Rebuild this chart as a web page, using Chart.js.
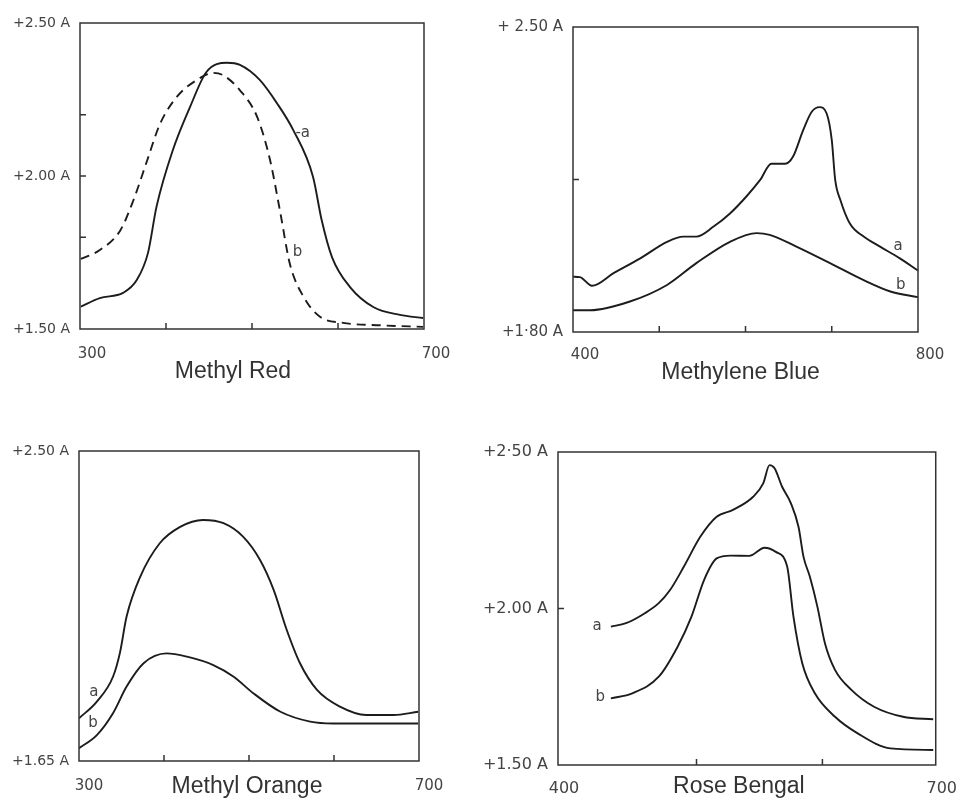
<!DOCTYPE html>
<html><head><meta charset="utf-8">
<script src="https://cdn.jsdelivr.net/npm/chart.js@4.4.0/dist/chart.umd.min.js"></script>
<style>
html,body{margin:0;padding:0;background:#fff;}
#wrap{position:relative;width:965px;height:800px;overflow:hidden;}
.p{position:absolute;}
</style></head><body>
<div id="wrap">
<div class="p" style="left:0;top:0;width:480px;height:400px"><canvas id="c1"></canvas></div>
<div class="p" style="left:480px;top:0;width:485px;height:400px"><canvas id="c2"></canvas></div>
<div class="p" style="left:0;top:400px;width:480px;height:400px"><canvas id="c3"></canvas></div>
<div class="p" style="left:480px;top:400px;width:485px;height:400px"><canvas id="c4"></canvas></div>
</div>
<script>
// ---------- Methyl Red ----------
const mrA_x = [301, 323, 350, 366, 379, 389, 408, 428, 447, 471, 486, 509, 529, 548, 571, 581, 593, 614, 641, 672, 699];
const mrA_y = [1.573, 1.601, 1.618, 1.66, 1.748, 1.90, 2.085, 2.226, 2.34, 2.37, 2.363, 2.314, 2.238, 2.15, 1.997, 1.856, 1.735, 1.637, 1.572, 1.546, 1.536];
const mrB_x = [301, 323, 347, 362, 378, 393, 413, 436, 455, 466, 486, 506, 521, 533, 544, 560, 579, 606, 650, 699];
const mrB_y = [1.729, 1.758, 1.823, 1.92, 2.05, 2.17, 2.26, 2.314, 2.337, 2.33, 2.28, 2.193, 2.052, 1.879, 1.713, 1.605, 1.54, 1.52, 1.512, 1.507];
const mrXLabels = [300, 700];
const mrYTicks = [1.5, 2.0, 2.5];
const mrYLabels = ['+1.50 A', '+2.00 A', '+2.50 A'];

// ---------- Methylene Blue ----------
const mbA_x = [400, 408, 422, 447, 478, 509, 528, 543, 563, 582, 601, 617, 630, 646, 655, 667, 677, 686, 694, 700, 704, 710, 721, 737, 756, 779, 800];
const mbA_y = [1.927, 1.926, 1.906, 1.935, 1.969, 2.007, 2.019, 2.019, 2.042, 2.072, 2.111, 2.149, 2.186, 2.186, 2.202, 2.264, 2.306, 2.316, 2.302, 2.241, 2.149, 2.103, 2.049, 2.019, 1.996, 1.969, 1.941];
const mbB_x = [400, 420, 466, 509, 543, 582, 613, 628, 659, 698, 737, 768, 800];
const mbB_y = [1.85, 1.85, 1.870, 1.908, 1.958, 2.007, 2.027, 2.023, 1.996, 1.958, 1.919, 1.893, 1.880];
const mbXLabels = [400, 800];
const mbYTicks = [1.8, 2.5];
const mbYLabels = ['+1·80 A', '+ 2.50 A'];

// ---------- Methyl Orange ----------
const moA_x = [300, 321, 340, 348, 356, 372, 395, 419, 446, 470, 493, 513, 529, 544, 560, 580, 607, 638, 670, 699];
const moA_y = [1.767, 1.813, 1.881, 1.945, 2.046, 2.155, 2.247, 2.292, 2.311, 2.302, 2.265, 2.201, 2.119, 2.012, 1.918, 1.845, 1.799, 1.776, 1.776, 1.785];
const moB_x = [300, 321, 340, 356, 376, 403, 427, 458, 482, 505, 537, 572, 599, 699];
const moB_y = [1.685, 1.721, 1.781, 1.854, 1.918, 1.945, 1.936, 1.913, 1.881, 1.836, 1.785, 1.758, 1.753, 1.753];
const moXLabels = [300, 700];
const moYTicks = [1.65, 2.5];
const moYLabels = ['+1.65 A', '+2.50 A'];

// ---------- Rose Bengal ----------
const rbA_x = [442, 454, 469, 480, 489, 500, 513, 526, 539, 555, 563, 568, 572, 578, 585, 591, 595, 600, 606, 612, 620, 633, 651, 674, 698];
const rbA_y = [1.942, 1.953, 1.985, 2.017, 2.059, 2.134, 2.229, 2.293, 2.315, 2.357, 2.40, 2.458, 2.448, 2.389, 2.336, 2.261, 2.165, 2.102, 2.006, 1.889, 1.804, 1.74, 1.686, 1.654, 1.646];
const rbB_x = [442, 459, 480, 495, 506, 516, 526, 537, 552, 564, 573, 582, 587, 594, 604, 620, 638, 664, 698];
const rbB_y = [1.713, 1.729, 1.782, 1.878, 1.974, 2.091, 2.16, 2.169, 2.168, 2.194, 2.181, 2.134, 1.974, 1.825, 1.729, 1.654, 1.601, 1.553, 1.548];
const rbXLabels = [400, 700];
const rbYTicks = [1.5, 2.0, 2.5];
const rbYLabels = ['+1.50 A', '+2.00 A', '+2·50 A'];

Chart.defaults.font.family = '"DejaVu Sans", sans-serif';

const framePlugin = {
  id: 'frame',
  afterDatasetsDraw(chart, args, o) {
    const {ctx, chartArea: a, scales: {x, y}} = chart;
    ctx.save();
    ctx.strokeStyle = '#333'; ctx.lineWidth = 1.5;
    ctx.strokeRect(a.left, a.top, a.right - a.left, a.bottom - a.top);
    ctx.beginPath();
    (o.xTicks || []).forEach(v => { const px = x.getPixelForValue(v); ctx.moveTo(px, a.bottom); ctx.lineTo(px, a.bottom - 6); });
    (o.yTicks || []).forEach(v => { const py = y.getPixelForValue(v); ctx.moveTo(a.left, py); ctx.lineTo(a.left + 6, py); });
    ctx.stroke();
    ctx.fillStyle = '#444'; ctx.font = '15px "DejaVu Sans"';
    ctx.textAlign = 'center'; ctx.textBaseline = 'middle';
    (o.labels || []).forEach(l => ctx.fillText(l.text, x.getPixelForValue(l.x), y.getPixelForValue(l.y)));
    ctx.fillStyle = '#333'; ctx.font = '23px "Liberation Sans", Arial, sans-serif';
    ctx.fillText(o.title, (a.left + a.right) / 2 + o.titleDx, o.titleY);
    ctx.restore();
  }
};

function makeChart(id, c) {
  const datasets = c.series.map(s => ({
    data: s.x.map((v, i) => ({x: v, y: s.y[i]})),
    borderColor: '#1c1c1c', borderWidth: 1.9, borderDash: s.dash || [],
    pointRadius: 0, fill: false, cubicInterpolationMode: 'monotone'
  }));
  new Chart(document.getElementById(id), {
    type: 'line',
    data: {datasets},
    options: {
      animation: false, responsive: true, maintainAspectRatio: false,
      layout: {padding: {top: c.box.top, right: c.W - c.box.right, left: 0, bottom: 0}},
      plugins: {
        legend: {display: false}, tooltip: {enabled: false},
        frame: {xTicks: c.xMinor, yTicks: c.yMinor, labels: c.labels, title: c.title, titleDx: c.titleDx, titleY: c.titleY}
      },
      scales: {
        x: {
          type: 'linear', min: c.xMin, max: c.xMax,
          grid: {display: false, drawTicks: false}, border: {display: false},
          afterBuildTicks: s => { s.ticks = c.xLabels.map(v => ({value: v})); },
          afterFit: s => { s.height = c.H - c.box.bottom; },
          ticks: {autoSkip: false, maxRotation: 0, padding: c.xPad, labelOffset: c.labelOffset,
                  font: {size: c.xFont}, color: '#444', callback: v => String(v)}
        },
        y: {
          min: c.yMin, max: c.yMax,
          grid: {display: false, drawTicks: false}, border: {display: false},
          afterBuildTicks: s => { s.ticks = c.yTicks.map(v => ({value: v})); },
          afterFit: s => { s.width = c.box.left; },
          ticks: {autoSkip: false, padding: 10, font: {size: c.yFont}, color: '#444',
                  callback: (v, i) => c.yLabels[i]}
        }
      }
    },
    plugins: [framePlugin]
  });
}

makeChart('c1', {
  W: 480, H: 400, box: {left: 80, right: 424, top: 23, bottom: 329},
  xMin: 300, xMax: 700, yMin: 1.5, yMax: 2.5,
  xLabels: mrXLabels, yTicks: mrYTicks, yLabels: mrYLabels,
  xMinor: [400, 500, 600], yMinor: [1.8, 2.0, 2.2],
  xPad: 16, labelOffset: 12, xFont: 15, yFont: 14,
  series: [{x: mrA_x, y: mrA_y}, {x: mrB_x, y: mrB_y, dash: [9, 6]}],
  labels: [{text: '-a', x: 559, y: 2.14}, {text: 'b', x: 553, y: 1.752}],
  title: 'Methyl Red', titleDx: -19, titleY: 372
});
makeChart('c2', {
  W: 485, H: 400, box: {left: 93, right: 438, top: 27, bottom: 332},
  xMin: 400, xMax: 800, yMin: 1.8, yMax: 2.5,
  xLabels: mbXLabels, yTicks: mbYTicks, yLabels: mbYLabels,
  xMinor: [500, 600, 700], yMinor: [2.15],
  xPad: 14, labelOffset: 12, xFont: 15, yFont: 15,
  series: [{x: mbA_x, y: mbA_y}, {x: mbB_x, y: mbB_y}],
  labels: [{text: 'a', x: 777, y: 1.997}, {text: 'b', x: 780, y: 1.908}],
  title: 'Methylene Blue', titleDx: -5, titleY: 373
});
makeChart('c3', {
  W: 480, H: 400, box: {left: 79, right: 419, top: 51, bottom: 361},
  xMin: 300, xMax: 700, yMin: 1.65, yMax: 2.5,
  xLabels: moXLabels, yTicks: moYTicks, yLabels: moYLabels,
  xMinor: [400, 500, 600], yMinor: [],
  xPad: 16, labelOffset: 10, xFont: 15, yFont: 14,
  series: [{x: moA_x, y: moA_y}, {x: moB_x, y: moB_y}],
  labels: [{text: 'a', x: 317.6, y: 1.839}, {text: 'b', x: 316.5, y: 1.754}],
  title: 'Methyl Orange', titleDx: -2, titleY: 387
});
makeChart('c4', {
  W: 485, H: 400, box: {left: 78, right: 463, top: 52, bottom: 365},
  xMin: 400, xMax: 700, yMin: 1.5, yMax: 2.5,
  xLabels: rbXLabels, yTicks: rbYTicks, yLabels: rbYLabels,
  xMinor: [510, 610], yMinor: [2.0],
  xPad: 14, labelOffset: 6, xFont: 16, yFont: 16,
  series: [{x: rbA_x, y: rbA_y}, {x: rbB_x, y: rbB_y}],
  labels: [{text: 'a', x: 431, y: 1.944}, {text: 'b', x: 433.5, y: 1.717}],
  title: 'Rose Bengal', titleDx: -8, titleY: 387
});
</script>
</body></html>
